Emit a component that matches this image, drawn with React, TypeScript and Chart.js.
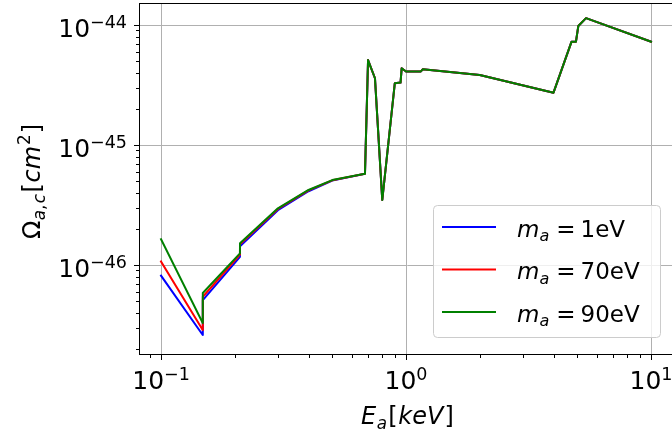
import React, { useEffect, useRef } from 'react';
import { Chart, registerables } from 'chart.js';

Chart.register(...registerables);

// ---- data ----
const energies = [0.1, 0.148, 0.1481, 0.21, 0.2101, 0.3, 0.4, 0.5, 0.68, 0.7, 0.747, 0.8, 0.9, 0.95, 0.96, 1.0, 1.15, 1.17, 2.0, 4.0, 4.74, 4.94, 5.05, 5.43, 10];
const omega1eV = [8.15e-47, 2.61e-47, 5.1e-47, 1.17e-46, 1.43e-46, 2.86e-46, 4.12e-46, 5.05e-46, 5.75e-46, 5.1e-45, 3.6e-45, 3.48e-46, 3.27e-45, 3.31e-45, 4.36e-45, 4.1e-45, 4.1e-45, 4.27e-45, 3.83e-45, 2.73e-45, 7.26e-45, 7.26e-45, 9.8e-45, 1.14e-44, 7.26e-45];
const omega70eV = [1.07e-46, 2.87e-47, 5.44e-47, 1.22e-46, 1.49e-46, 2.93e-46, 4.19e-46, 5.08e-46, 5.75e-46, 5.1e-45, 3.6e-45, 3.48e-46, 3.27e-45, 3.31e-45, 4.36e-45, 4.1e-45, 4.1e-45, 4.27e-45, 3.83e-45, 2.73e-45, 7.26e-45, 7.26e-45, 9.8e-45, 1.14e-44, 7.26e-45];
const omega90eV = [1.64e-46, 3.29e-47, 5.85e-47, 1.25e-46, 1.52e-46, 2.97e-46, 4.22e-46, 5.1e-46, 5.75e-46, 5.1e-45, 3.6e-45, 3.48e-46, 3.27e-45, 3.31e-45, 4.36e-45, 4.1e-45, 4.1e-45, 4.27e-45, 3.83e-45, 2.73e-45, 7.26e-45, 7.26e-45, 9.8e-45, 1.14e-44, 7.26e-45];
const seriesMasses = ['1eV', '70eV', '90eV'];
const seriesColors = ['#0000ff', '#ff0000', '#008000'];
const xTickExponents = [-1, 0, 1];
const yTickExponents = [-46, -45, -44];
const xLimits = [0.0813, 12.65];
const yLimits = [1.813e-47, 1.525e-44];

type Seg = { t: string; it?: boolean; sc?: number; dy?: number; gap?: number };

const fontOf = (size: number, italic?: boolean) =>
  `${italic ? 'italic ' : ''}${size}px "DejaVu Sans"`;

function segsWidth(ctx: CanvasRenderingContext2D, segs: Seg[], size: number) {
  let w = 0;
  for (const s of segs) {
    ctx.font = fontOf(size * (s.sc ?? 1), s.it);
    w += ctx.measureText(s.t).width + (s.gap ?? 0) * size;
  }
  return w;
}

function drawSegs(ctx: CanvasRenderingContext2D, segs: Seg[], x: number, y: number, size: number) {
  let cx = x;
  for (const s of segs) {
    ctx.font = fontOf(size * (s.sc ?? 1), s.it);
    ctx.fillText(s.t, cx, y - (s.dy ?? 0) * size);
    cx += ctx.measureText(s.t).width + (s.gap ?? 0) * size;
  }
}

const powerSegs = (e: number): Seg[] => [
  { t: '10' },
  { t: e < 0 ? '\u2212' + Math.abs(e) : String(e), sc: 0.7, dy: 0.376 },
];

function minorValues(min: number, max: number) {
  const out: number[] = [];
  for (let d = Math.floor(Math.log10(min)); d <= Math.ceil(Math.log10(max)); d++) {
    for (let m = 2; m <= 9; m++) {
      const v = m * Math.pow(10, d);
      if (v > min && v < max) out.push(v);
    }
  }
  return out;
}

const mplAxes = {
  id: 'mplAxes',
  beforeDatasetsDraw(chart: any) {
    const { ctx, chartArea: a, scales } = chart;
    const x = scales.x, y = scales.y;
    ctx.save();
    ctx.strokeStyle = '#b0b0b0';
    ctx.lineWidth = 1;
    ctx.beginPath();
    for (const e of xTickExponents) {
      const px = Math.round(x.getPixelForValue(Math.pow(10, e))) + 0.5;
      ctx.moveTo(px, a.top);
      ctx.lineTo(px, a.bottom);
    }
    for (const e of yTickExponents) {
      const py = Math.round(y.getPixelForValue(Math.pow(10, e))) + 0.5;
      ctx.moveTo(a.left, py);
      ctx.lineTo(a.right, py);
    }
    ctx.stroke();
    ctx.restore();
  },
  afterDatasetsDraw(chart: any) {
    const { ctx, chartArea: a, scales } = chart;
    const x = scales.x, y = scales.y;
    ctx.save();
    // spines
    ctx.strokeStyle = '#000';
    ctx.lineWidth = 1;
    ctx.strokeRect(a.left + 0.5, a.top + 0.5, a.right - a.left, a.bottom - a.top);
    // tick marks
    ctx.beginPath();
    for (const e of xTickExponents) {
      const px = Math.round(x.getPixelForValue(Math.pow(10, e))) + 0.5;
      ctx.moveTo(px, a.bottom);
      ctx.lineTo(px, a.bottom + 6);
    }
    for (const v of minorValues(xLimits[0], xLimits[1])) {
      const px = Math.round(x.getPixelForValue(v)) + 0.5;
      ctx.moveTo(px, a.bottom);
      ctx.lineTo(px, a.bottom + 4);
    }
    for (const e of yTickExponents) {
      const py = Math.round(y.getPixelForValue(Math.pow(10, e))) + 0.5;
      ctx.moveTo(a.left - 5, py);
      ctx.lineTo(a.left + 0.5, py);
    }
    for (const v of minorValues(yLimits[0], yLimits[1])) {
      const py = Math.round(y.getPixelForValue(v)) + 0.5;
      ctx.moveTo(a.left - 3, py);
      ctx.lineTo(a.left + 0.5, py);
    }
    ctx.stroke();

    // tick labels
    ctx.fillStyle = '#000';
    ctx.textAlign = 'left';
    ctx.textBaseline = 'alphabetic';
    const tickSize = 25;
    for (const e of xTickExponents) {
      const segs = powerSegs(e);
      const px = x.getPixelForValue(Math.pow(10, e));
      const w = segsWidth(ctx, segs, tickSize);
      drawSegs(ctx, segs, px - w / 2, a.bottom + 35, tickSize);
    }
    for (const e of yTickExponents) {
      const segs = powerSegs(e);
      const py = y.getPixelForValue(Math.pow(10, e));
      const w = segsWidth(ctx, segs, tickSize);
      drawSegs(ctx, segs, a.left - 12 - w, py + 12, tickSize);
    }

    // axis titles
    const titleSize = 24;
    const xt: Seg[] = [
      { t: 'E', it: true, gap: 0.02 },
      { t: 'a', it: true, sc: 0.7, dy: -0.2, gap: 0.05 },
      { t: '[', gap: 0.03 },
      { t: 'keV', it: true, gap: 0.05 },
      { t: ']' },
    ];
    const xw = segsWidth(ctx, xt, titleSize);
    drawSegs(ctx, xt, (a.left + a.right) / 2 - xw / 2, 424, titleSize);

    const yt: Seg[] = [
      { t: '\u03a9', gap: 0.02 },
      { t: 'a', it: true, sc: 0.7, dy: -0.2 },
      { t: ',', sc: 0.7, dy: -0.2, gap: 0.06 },
      { t: 'c', it: true, sc: 0.7, dy: -0.2, gap: 0.06 },
      { t: '[', gap: 0.03 },
      { t: 'cm', it: true, gap: 0.04 },
      { t: '2', sc: 0.7, dy: 0.42, gap: 0.04 },
      { t: ']' },
    ];
    const yw = segsWidth(ctx, yt, titleSize);
    ctx.save();
    ctx.translate(40, (a.top + a.bottom) / 2 + 3);
    ctx.rotate(-Math.PI / 2);
    drawSegs(ctx, yt, -yw / 2, 0, titleSize);
    ctx.restore();

    // legend
    const lx = 433.5, ly = 205.5, lw = 227, lh = 132;
    ctx.beginPath();
    (ctx as any).roundRect(lx, ly, lw, lh, 4);
    ctx.fillStyle = 'rgba(255,255,255,0.8)';
    ctx.fill();
    ctx.strokeStyle = '#cccccc';
    ctx.lineWidth = 1;
    ctx.stroke();
    const legendSize = 23;
    chart.data.datasets.forEach((ds: any, i: number) => {
      const yc = 227 + i * 42.5;
      ctx.beginPath();
      ctx.strokeStyle = ds.borderColor;
      ctx.lineWidth = 2;
      ctx.moveTo(442, yc);
      ctx.lineTo(496, yc);
      ctx.stroke();
      ctx.fillStyle = '#000';
      const segs: Seg[] = [
        { t: 'm', it: true },
        { t: 'a', it: true, sc: 0.7, dy: -0.2, gap: 0.3 },
        { t: '=', gap: 0.22 },
        { t: seriesMasses[i] },
      ];
      drawSegs(ctx, segs, 517, yc + 9.5, legendSize);
    });
    ctx.restore();
  },
};

export default function App() {
  const ref = useRef<HTMLCanvasElement>(null);
  useEffect(() => {
    if (!ref.current) return;
    const series = [omega1eV, omega70eV, omega90eV];
    const chart = new Chart(ref.current, {
      type: 'line',
      data: {
        datasets: series.map((vals, i) => ({
          label: 'm_a = ' + seriesMasses[i],
          data: energies.map((e, j) => ({ x: e, y: vals[j] })),
          borderColor: seriesColors[i],
          backgroundColor: seriesColors[i],
          borderWidth: 2,
          pointRadius: 0,
          fill: false,
          tension: 0,
          borderJoinStyle: 'round',
          borderCapStyle: 'square',
          order: series.length - 1 - i,
        })),
      },
      options: {
        animation: false,
        responsive: false,
        maintainAspectRatio: false,
        devicePixelRatio: 1,
        layout: { padding: { left: 139, top: 3, right: 4, bottom: 78 } },
        scales: {
          x: { type: 'logarithmic', min: xLimits[0], max: xLimits[1], display: false },
          y: { type: 'logarithmic', min: yLimits[0], max: yLimits[1], display: false },
        },
        plugins: { legend: { display: false }, tooltip: { enabled: false } },
        events: [],
      } as any,
      plugins: [mplAxes],
    });
    return () => chart.destroy();
  }, []);
  return (
    <div style={{ position: 'fixed', left: 0, top: 0, width: 672, height: 432, overflow: 'hidden', background: '#fff' }}>
      <canvas ref={ref} width={680} height={432} style={{ display: 'block', width: 680, height: 432 }} />
    </div>
  );
}
